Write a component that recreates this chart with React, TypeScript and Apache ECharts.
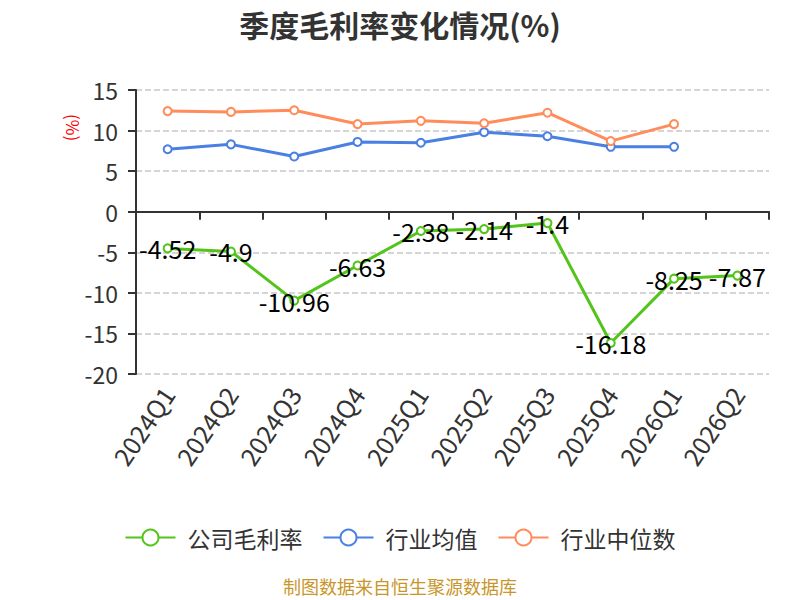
import React, { useEffect, useRef } from "react";
import * as echarts from "echarts";

const categories = ["2024Q1", "2024Q2", "2024Q3", "2024Q4", "2025Q1", "2025Q2", "2025Q3", "2025Q4", "2026Q1", "2026Q2"];
const companyMargin = [-4.52, -4.9, -10.96, -6.63, -2.38, -2.14, -1.4, -16.18, -8.25, -7.87];
const industryMean = [7.7, 8.3, 6.8, 8.6, 8.5, 9.8, 9.3, 8.0, 8.0];
const industryMedian = [12.4, 12.3, 12.5, 10.8, 11.2, 10.9, 12.2, 8.7, 10.8];
const seriesNames = ["公司毛利率", "行业均值", "行业中位数"];

const FONT = "'Microsoft YaHei', 'Noto Sans CJK SC', 'Noto Sans', sans-serif";

export default function App() {
  const ref = useRef<HTMLDivElement>(null);
  useEffect(() => {
    document.body.style.margin = "0";
    if (!ref.current) return;
    const chart = echarts.init(ref.current, undefined, { renderer: "svg" });
    chart.setOption({
      animation: false,
      textStyle: { fontFamily: FONT },
      title: {
        text: "季度毛利率变化情况(%)",
        left: "center",
        top: 4,
        textStyle: { fontSize: 30, fontWeight: "bold", color: "#333", fontFamily: FONT },
      },
      grid: { left: 136, right: 31, top: 90, bottom: 226 },
      legend: {
        bottom: 46,
        left: "center",
        itemWidth: 50,
        itemHeight: 20,
        itemGap: 20,
        textStyle: { fontSize: 23, color: "#333", fontFamily: FONT, padding: [0, 0, 0, 7] },
        data: seriesNames,
      },
      graphic: [
        {
          type: "text",
          x: 82,
          y: 114,
          rotation: -Math.PI / 2,
          style: { text: "(%)", fill: "#ff0000", fontSize: 17, fontFamily: FONT },
        },
        {
          type: "text",
          left: "center",
          top: 577,
          style: { text: "制图数据来自恒生聚源数据库", fill: "#c8962b", fontSize: 18, fontFamily: FONT },
        },
      ],
      xAxis: [
        {
          type: "category",
          data: categories,
          boundaryGap: true,
          axisLine: { onZero: true, lineStyle: { color: "#333", width: 2 } },
          axisTick: { show: true, length: 8, lineStyle: { color: "#333", width: 2 } },
          axisLabel: { show: false },
        },
        {
          type: "category",
          data: categories,
          position: "bottom",
          boundaryGap: true,
          axisLine: { show: false, onZero: false },
          axisTick: { show: false },
          axisLabel: { rotate: 56, fontSize: 25, color: "#333", margin: 15, fontFamily: FONT },
        },
      ],
      yAxis: {
        type: "value",
        min: -20,
        max: 15,
        interval: 5,
        axisLine: { show: true, lineStyle: { color: "#333", width: 2 } },
        axisTick: { show: true, length: 8, lineStyle: { color: "#333", width: 2 } },
        axisLabel: { fontSize: 23, color: "#333", margin: 18, fontFamily: FONT },
        splitLine: { lineStyle: { type: "dashed", color: "#c8c8c8", width: 1.5 } },
      },
      series: [
        {
          name: seriesNames[0],
          type: "line",
          data: companyMargin,
          color: "#52c41a",
          lineStyle: { width: 3 },
          symbol: "emptyCircle",
          symbolSize: 8,
          label: { show: true, position: "inside", fontSize: 25, color: "#000", fontFamily: FONT },
          z: 3,
        },
        {
          name: seriesNames[1],
          type: "line",
          data: industryMean,
          color: "#4a7fe3",
          lineStyle: { width: 3 },
          symbol: "emptyCircle",
          symbolSize: 8,
        },
        {
          name: seriesNames[2],
          type: "line",
          data: industryMedian,
          color: "#ff8c5a",
          lineStyle: { width: 3 },
          symbol: "emptyCircle",
          symbolSize: 8,
        },
      ],
    });
    return () => chart.dispose();
  }, []);
  return <div ref={ref} style={{ width: 800, height: 600 }} />;
}
